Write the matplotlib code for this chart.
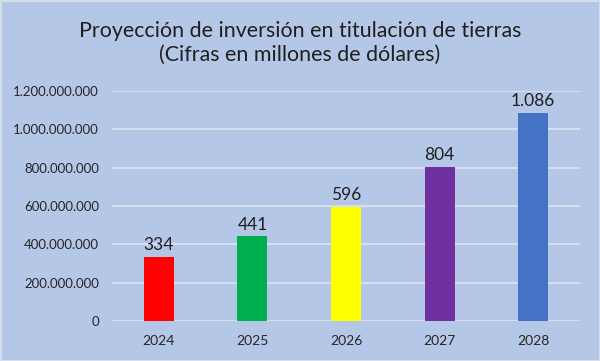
import matplotlib
matplotlib.use("Agg")
import matplotlib.pyplot as plt
from matplotlib.ticker import FuncFormatter

years = ["2024", "2025", "2026", "2027", "2028"]
values = [334e6, 441e6, 596e6, 804e6, 1086e6]
labels = ["334", "441", "596", "804", "1.086"]
colors = ["#FF0000", "#00B050", "#FFFF00", "#7030A0", "#4472C4"]
yticks = [0, 200e6, 400e6, 600e6, 800e6, 1000e6, 1200e6]

plt.rcParams['font.family'] = ['Lato', 'DejaVu Sans']
bg = "#B4C7E7"
fig = plt.figure(figsize=(6, 3.61), dpi=100, facecolor=bg, edgecolor="#D6DEEC", linewidth=2)
ax = fig.add_axes([0.1867, 0.1108, 0.78, 0.637])
ax.set_facecolor(bg)

x = range(len(years))
bars = ax.bar(x, values, width=0.32, color=colors, zorder=3)
for xi, v, lab in zip(x, values, labels):
    ax.text(xi, v + 20e6, lab, ha="center", va="bottom", fontsize=12.5, color="#1F1F1F", zorder=4)

ax.set_xlim(-0.5, len(years) - 0.5)
ax.set_ylim(0, 1200e6)
ax.set_yticks(yticks)
ax.yaxis.set_major_formatter(FuncFormatter(lambda v, p: f"{int(round(v)):,}".replace(",", ".")))
ax.set_xticks(list(x))
ax.set_xticklabels(years)
ax.tick_params(axis="both", length=0, colors="#262626")
ax.tick_params(axis="y", pad=9.5, labelsize=9.5)
ax.tick_params(axis="x", pad=10, labelsize=10)
ax.grid(axis="y", color="#D9E2F1", linewidth=1.3, zorder=0)
for s in ax.spines.values():
    s.set_visible(False)

fig.text(0.5, 0.881, "Proyección de inversión en titulación de tierras\n(Cifras en millones de dólares)",
         ha="center", va="center", fontsize=15.4, color="#1F1F1F", linespacing=1.25)

fig.savefig("out.png", dpi=100, facecolor=bg, edgecolor="#D6DEEC")
